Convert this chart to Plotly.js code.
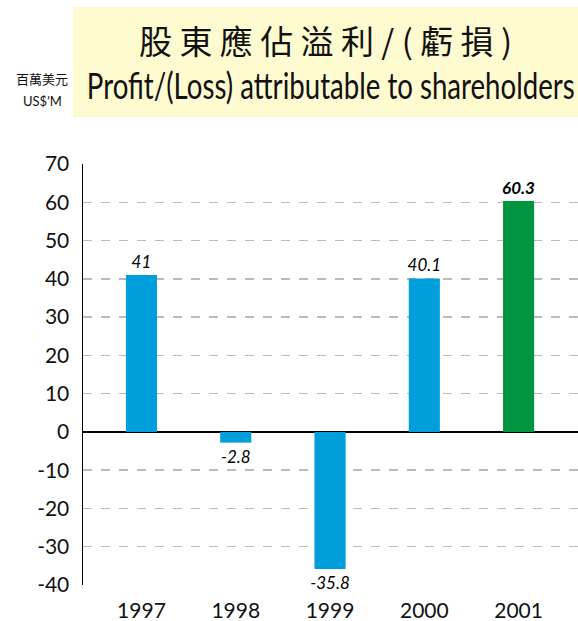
<!DOCTYPE html>
<html>
<head>
<meta charset="utf-8">
<script src="https://cdn.plot.ly/plotly-3.0.1.min.js"></script>
<style>html,body{margin:0;padding:0;background:#fff;}#chart{width:578px;height:621px;}</style>
</head>
<body>
<div id="chart"></div>
<script>
const years = ['1997', '1998', '1999', '2000', '2001'];
const values = [41, -2.8, -35.8, 40.1, 60.3];
const barColors = ['#009EDB', '#009EDB', '#009EDB', '#009EDB', '#00963F'];
const yTicks = [-40, -30, -20, -10, 0, 10, 20, 30, 40, 50, 60, 70];
const titleZh = '股 東 應 佔 溢 利 / ( 虧 損 )';
const titleEn = 'Profit/(Loss) attributable to shareholders';
const unitZh = '百萬美元';
const unitEn = "US$'M";

const labels = values.map((v, i) => i === values.length - 1 ? '<b>' + v + '</b>' : String(v));
const baseFont = 'Lato, "Open Sans", sans-serif';

const trace = {
  type: 'bar',
  x: years,
  y: values,
  marker: {color: barColors},
  width: 0.33,
  text: labels,
  textposition: 'outside',
  constraintext: 'none',
  textfont: {family: baseFont, size: 17, color: '#000', style: 'italic'},
  cliponaxis: false,
  hoverinfo: 'none'
};

const layout = {
  width: 578, height: 621,
  margin: {l: 83, r: 0, t: 164, b: 36},
  paper_bgcolor: '#fff', plot_bgcolor: '#fff',
  showlegend: false,
  font: {family: baseFont, color: '#111'},
  xaxis: {
    type: 'category',
    range: [-0.62, 4.63],
    showline: false, showgrid: false, zeroline: false,
    ticks: '', tickfont: {size: 21, family: baseFont, color: '#111'},
    ticklabelstandoff: 11
  },
  yaxis: {
    range: [-40, 70],
    tickvals: yTicks,
    ticktext: yTicks.map(String),
    showline: true, linecolor: '#000', linewidth: 1.5,
    showgrid: true, gridcolor: '#bbbbbb', gridwidth: 1.5, griddash: 'dash',
    zeroline: true, zerolinecolor: '#000', zerolinewidth: 1.2,
    ticks: '', tickfont: {size: 21, family: baseFont, color: '#111'},
    ticklabelstandoff: 8
  },
  shapes: [{
    type: 'rect', xref: 'paper', yref: 'paper',
    x0: -0.0202, x1: 1.0, y0: 1.1116, y1: 1.373,
    fillcolor: '#FFFBD0', line: {width: 0}, layer: 'below'
  }],
  annotations: [
    {xref: 'paper', yref: 'paper', x: 0.49, y: (585 - 40) / 421, xanchor: 'center', yanchor: 'middle',
     text: titleZh, showarrow: false,
     font: {family: '"Noto Sans CJK TC", "Noto Sans CJK SC", sans-serif', size: 33, color: '#111'}},
    {xref: 'paper', yref: 'paper', x: 0.5, y: (585 - 84) / 421, xanchor: 'center', yanchor: 'middle',
     text: titleEn, showarrow: false,
     font: {family: 'Lato, sans-serif', size: 37, color: '#111'}},
    {xref: 'paper', yref: 'paper', x: (42 - 83) / 495, y: (585 - 78) / 421, xanchor: 'center', yanchor: 'middle',
     text: unitZh, showarrow: false,
     font: {family: '"Noto Sans CJK TC", sans-serif', size: 13, color: '#111'}},
    {xref: 'paper', yref: 'paper', x: (42 - 83) / 495, y: (585 - 101) / 421, xanchor: 'center', yanchor: 'middle',
     text: unitEn, showarrow: false,
     font: {family: baseFont, size: 13, color: '#111'}}
  ]
};

Plotly.newPlot('chart', [trace], layout, {staticPlot: true, displayModeBar: false}).then(function (gd) {
  // Condense the English title horizontally to match the narrow typeface of the original
  gd.querySelectorAll('.annotation-text').forEach(function (t) {
    if (t.textContent === titleEn) {
      const bb = t.getBBox();
      const target = 488;
      const s = target / bb.width;
      const c = bb.x + bb.width / 2;
      const prev = t.getAttribute('transform') || '';
      t.setAttribute('transform', prev + ' translate(' + c + ',0) scale(' + s + ',1) translate(' + (-c) + ',0)');
    }
  });
});
</script>
</body>
</html>
